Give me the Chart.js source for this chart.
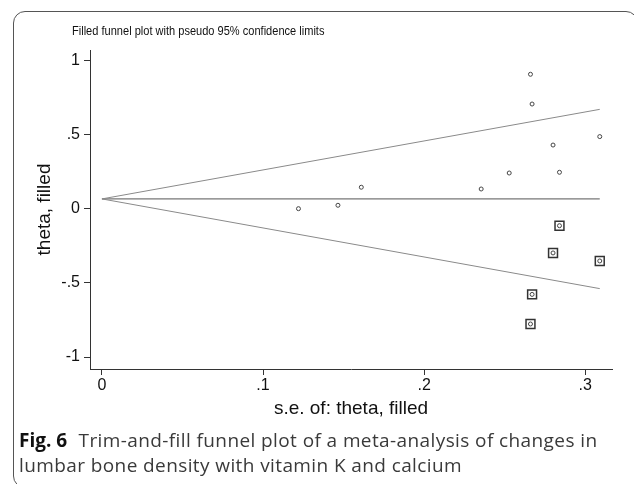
<!DOCTYPE html>
<html>
<head>
<meta charset="utf-8">
<script src="https://cdn.jsdelivr.net/npm/chart.js@4.4.1/dist/chart.umd.min.js"></script>
<style>
  html, body { margin: 0; padding: 0; background: #fff; }
  #page { position: relative; width: 634px; height: 484px; overflow: hidden; }
  #frame {
    position: absolute; left: 13px; top: 11px; width: 625px; height: 477px;
    border: 1.5px solid #555; border-radius: 12px; box-sizing: border-box;
  }
  #plotTitle {
    position: absolute; left: 72px; top: 23px;
    font: 13px "Liberation Sans", Arial, sans-serif; color: #111;
    transform: scaleX(0.85); transform-origin: left top; white-space: nowrap;
  }
  #caption {
    position: absolute; left: 19px; top: 428px; width: 610px; white-space: nowrap;
    font: 19px "Open Sans", sans-serif; line-height: 25px; color: #3a3a3a;
    letter-spacing: 0.4px;
  }
  #caption b { color: #111; margin-right: 6px; letter-spacing: 0; }
  canvas { position: absolute; left: 0; top: 0; }
</style>
</head>
<body>
<div id="page">
  <div id="frame"></div>
  <canvas id="myChart" width="634" height="430"></canvas>
  <div id="plotTitle">Filled funnel plot with pseudo 95% confidence limits</div>
  <div id="caption"><b>Fig. 6</b> Trim-and-fill funnel plot of a meta-analysis of changes in<br>lumbar bone density with vitamin K and calcium</div>
</div>
<script>
// observed studies (s.e., theta)
var studySe    = [0.122, 0.1465, 0.161, 0.2354, 0.2528, 0.266, 0.267, 0.280, 0.284, 0.309];
var studyTheta = [0.002, 0.025, 0.147, 0.135, 0.243, 0.910, 0.709, 0.432, 0.248, 0.489];
// imputed (filled) studies
var filledSe    = [0.266, 0.267, 0.280, 0.284, 0.309];
var filledTheta = [-0.777, -0.577, -0.297, -0.113, -0.351];
// pooled estimate and pseudo 95% limits
var funnelSe    = [0, 0.309];
var pooled      = [0.068, 0.068];
var upperLimit  = [0.068, 0.673];
var lowerLimit  = [0.068, -0.538];
// axis ticks
var xTicks = [0, 0.1, 0.2, 0.3];
var yTicks = [-1, -0.5, 0, 0.5, 1];

function pts(xs, ys) { return xs.map(function(x, i){ return {x: x, y: ys[i]}; }); }
function stataLabel(v) {
    var s = String(v);
    return s.replace(/^0\./, '.').replace(/^-0\./, '-.');
}

var lineStyle = { showLine: true, pointRadius: 0, borderWidth: 1, fill: false };
var axisFont = { family: '"Liberation Sans", Arial', size: 16 };
var titleFont = { family: '"Liberation Sans", Arial', size: 19 };

var dataObj = {
    type: 'scatter',
    data: {
        datasets: [
            Object.assign({ data: pts(funnelSe, upperLimit), borderColor: '#8a8a8a', order: 3 }, lineStyle),
            Object.assign({ data: pts(funnelSe, lowerLimit), borderColor: '#8a8a8a', order: 3 }, lineStyle),
            Object.assign({ data: pts(funnelSe, pooled), borderColor: '#555', order: 3 }, lineStyle),
            {
                data: pts(studySe, studyTheta), order: 1,
                pointStyle: 'circle', pointRadius: 2, borderWidth: 1,
                borderColor: '#444', backgroundColor: '#fff'
            },
            {
                data: pts(filledSe, filledTheta), order: 2,
                pointStyle: 'rect', pointRadius: 6.3, borderWidth: 1.5,
                borderColor: '#333', backgroundColor: '#fff'
            },
            {
                data: pts(filledSe, filledTheta), order: 1,
                pointStyle: 'circle', pointRadius: 2, borderWidth: 1,
                borderColor: '#444', backgroundColor: '#fff'
            }
        ]
    },
    options: {
        responsive: false,
        animation: false,
        devicePixelRatio: 1,
        layout: { padding: { left: 30, top: 50, right: 22, bottom: 0 } },
        plugins: { legend: { display: false }, tooltip: { enabled: false } },
        scales: {
            x: {
                type: 'linear', min: -0.0074, max: 0.3166,
                afterFit: function(s){ s.height = 61; },
                afterBuildTicks: function(s){ s.ticks = xTicks.map(function(v){ return {value: v}; }); },
                grid: { drawOnChartArea: false, tickLength: 6, color: '#333' },
                border: { display: true, color: '#333', width: 1 },
                ticks: {
                    padding: 1, color: '#111', maxRotation: 0, font: axisFont,
                    callback: function(v){ return stataLabel(v); }
                },
                title: {
                    display: true, text: 's.e. of: theta, filled', color: '#111', font: titleFont,
                    padding: { top: 0, bottom: 10 }
                }
            },
            y: {
                type: 'linear', min: -1.081, max: 1.074,
                afterFit: function(s){ s.width = 60; },
                afterBuildTicks: function(s){ s.ticks = yTicks.map(function(v){ return {value: v}; }); },
                grid: { drawOnChartArea: false, tickLength: 6, color: '#333' },
                border: { display: true, color: '#333', width: 1 },
                ticks: {
                    padding: 4, color: '#111', font: axisFont,
                    callback: function(v){ return stataLabel(v); }
                },
                title: {
                    display: true, text: 'theta, filled', color: '#111', font: titleFont,
                    padding: { top: 3, bottom: 0 }
                }
            }
        }
    }
};
var ctx = document.getElementById('myChart').getContext('2d');
window.myLine = new Chart(ctx, dataObj);
</script>
</body>
</html>
